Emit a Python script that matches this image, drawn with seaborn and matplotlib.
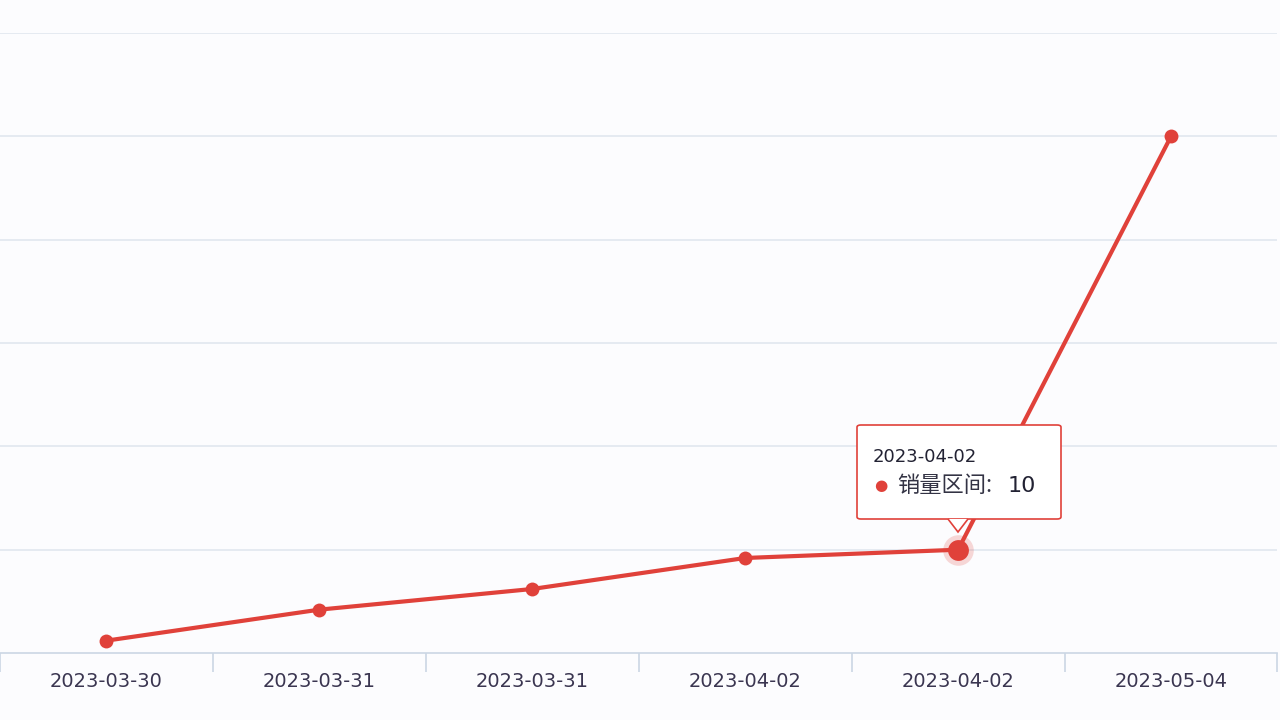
import matplotlib
matplotlib.use("Agg")
import matplotlib.pyplot as plt
import seaborn as sns
import pandas as pd
from matplotlib.patches import FancyBboxPatch, Polygon

dates = ["2023-03-30", "2023-03-31", "2023-03-31", "2023-04-02", "2023-04-02", "2023-05-04"]
sales = [1.2, 4.2, 6.2, 9.2, 10, 50]
df = pd.DataFrame({"pos": range(len(dates)), "val": sales})

sns.set_theme(style="white")
plt.rcParams['font.family'] = ['DejaVu Sans', 'Noto Sans CJK SC']

fig = plt.figure(figsize=(12.8, 7.2), dpi=100)
ax = fig.add_axes([0, 0.093, 0.998, 0.861])
fig.patch.set_facecolor("#fcfcfe")
ax.set_facecolor("#fcfcfe")

red = "#e0413a"
sns.lineplot(data=df, x="pos", y="val", color=red, lw=3, marker="o",
             markersize=10, markeredgewidth=0, ax=ax)
ax.plot(4, 10, "o", ms=22, color=red, alpha=0.2, mec="none")
ax.plot(4, 10, "o", ms=15, color=red, mec="none")

ax.set_xlim(-0.5, 5.5)
ax.set_ylim(0, 60)
ax.set_yticks([10, 20, 30, 40, 50, 60])
ax.yaxis.grid(True, color="#e1e7ef", lw=1.2)
ax.tick_params(axis="y", left=False, labelleft=False)
for s in ["top", "right", "left"]:
    ax.spines[s].set_visible(False)
ax.spines["bottom"].set_color("#cbd6e4")
ax.spines["bottom"].set_linewidth(1.2)
ax.set_xticks(range(len(dates)))
ax.set_xticklabels(dates, fontsize=14, color="#3a3550", family="DejaVu Sans")
ax.set_xticks([i - 0.5 for i in range(len(dates) + 1)], minor=True)
ax.tick_params(axis="x", which="major", bottom=False, length=0, pad=14)
ax.tick_params(axis="x", which="minor", bottom=True, direction="out", length=14,
               color="#cbd6e4", width=1.2)
ax.set_xlabel("")
ax.set_ylabel("")

# tooltip
tx0, ty0 = 857 / 1280, 1 - 519 / 720
w, h = 204 / 1280, 94 / 720
box = FancyBboxPatch((tx0, ty0), w, h, boxstyle="round,pad=0,rounding_size=0.003",
                     transform=fig.transFigure, fc="white", ec=red, lw=1.2, zorder=5)
fig.patches.append(box)
tri = Polygon([(948 / 1280, ty0), (958 / 1280, 1 - 532 / 720), (968 / 1280, ty0)],
              closed=False, transform=fig.transFigure, fc="white", ec=red, lw=1.2, zorder=6)
fig.patches.append(tri)
fig.text(873 / 1280, 1 - 457 / 720, "2023-04-02", fontsize=13, color="#222233", va="center", zorder=8)
fig.text(881 / 1280, 1 - 486 / 720, "●", fontsize=11, color=red, va="center", ha="center", zorder=8)
fig.text(897 / 1280, 1 - 486 / 720, "销量区间:", fontsize=16, color="#333344", va="center",
         family=['Noto Sans CJK SC', 'DejaVu Sans'], zorder=8)
fig.text(1008 / 1280, 1 - 486 / 720, "10", fontsize=16, color="#222233", va="center", zorder=8)

fig.savefig("out.png", dpi=100, facecolor=fig.get_facecolor())
